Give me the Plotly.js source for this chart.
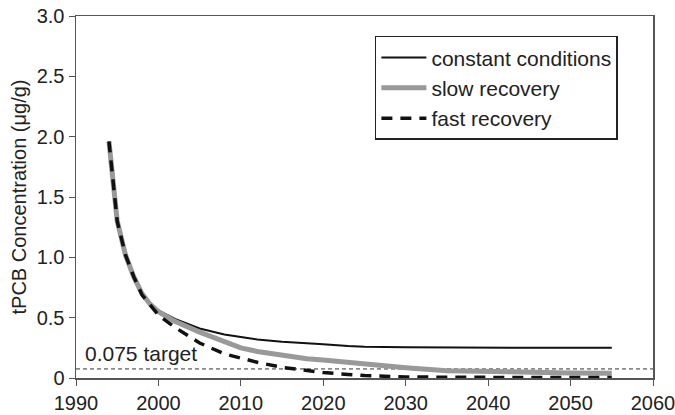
<!DOCTYPE html>
<html>
<head>
<meta charset="utf-8">
<script src="https://cdn.plot.ly/plotly-3.0.1.min.js"></script>
<style>html,body{margin:0;padding:0;background:#fff;}#chart{width:675px;height:415px;}</style>
</head>
<body>
<div id="chart"></div>
<script>
// Data
const years = [1994, 1995, 1996, 1997, 1998, 1999, 2000, 2002, 2005, 2008, 2010, 2012, 2015, 2018, 2020, 2023, 2025, 2030, 2035, 2040, 2045, 2050, 2055];
const constantConditions = [1.96, 1.30, 1.02, 0.84, 0.70, 0.62, 0.56, 0.49, 0.41, 0.36, 0.34, 0.32, 0.30, 0.29, 0.28, 0.265, 0.26, 0.255, 0.252, 0.25, 0.25, 0.25, 0.25];
const slowRecovery = [1.96, 1.30, 1.02, 0.84, 0.70, 0.61, 0.55, 0.47, 0.38, 0.30, 0.25, 0.22, 0.185, 0.16, 0.15, 0.13, 0.11, 0.085, 0.06, 0.052, 0.046, 0.042, 0.04];
const fastRecovery = [1.96, 1.30, 1.02, 0.84, 0.69, 0.60, 0.52, 0.42, 0.29, 0.20, 0.165, 0.13, 0.088, 0.06, 0.045, 0.03, 0.02, 0.008, 0.005, 0.004, 0.004, 0.004, 0.004];
const targetX = [1990, 2060];
const targetY = [0.075, 0.075];
const yTickVals = [0, 0.5, 1.0, 1.5, 2.0, 2.5, 3.0];
const yTickText = ["0", "0.5", "1.0", "1.5", "2.0", "2.5", "3.0"];
const xTickVals = [1990, 2000, 2010, 2020, 2030, 2040, 2050, 2060];

const font = {family: "Liberation Sans, Arial, sans-serif", color: "#222"};

const traces = [
  {x: targetX, y: targetY, mode: "lines", showlegend: false, hoverinfo: "skip",
   line: {color: "#333", width: 1, dash: "4px,3px"}},
  {x: years, y: constantConditions, mode: "lines", name: "constant conditions",
   line: {color: "#111", width: 2}},
  {x: years, y: slowRecovery, mode: "lines", name: "slow recovery",
   line: {color: "#999", width: 5}},
  {x: years, y: fastRecovery, mode: "lines", name: "fast recovery",
   line: {color: "#111", width: 3.5, dash: "11px,8px"}}
];

const layout = {
  width: 675, height: 415,
  margin: {l: 76, r: 22, t: 16, b: 37},
  paper_bgcolor: "#fff", plot_bgcolor: "#fff",
  font: Object.assign({size: 20}, font),
  showlegend: true,
  legend: {
    x: 0.518, y: 0.945, xanchor: "left", yanchor: "top",
    bgcolor: "#fff", bordercolor: "#222", borderwidth: 1.5,
    font: Object.assign({size: 21}, font),
    itemwidth: 45,
    tracegroupgap: 0
  },
  xaxis: {
    range: [1990, 2060], tickvals: xTickVals, ticks: "outside", ticklen: 6,
    tickcolor: "#555", showgrid: false, zeroline: false,
    showline: true, linecolor: "#555", linewidth: 1.5, mirror: true,
    ticklabeloverflow: "allow",
    tickfont: Object.assign({size: 20}, font)
  },
  yaxis: {
    range: [0, 3.0], tickvals: yTickVals, ticktext: yTickText, ticks: "outside", ticklen: 6,
    tickcolor: "#555", showgrid: false, zeroline: false,
    showline: true, linecolor: "#555", linewidth: 1.5, mirror: true,
    tickfont: Object.assign({size: 20}, font),
    title: {text: "tPCB Concentration (μg/g)", font: Object.assign({size: 20}, font), standoff: 4}
  },
  annotations: [
    {x: 1990.8, y: 0.075, xref: "x", yref: "y", text: "0.075 target", showarrow: false,
     xanchor: "left", yanchor: "bottom", yshift: 2, font: Object.assign({size: 21}, font)}
  ]
};

Plotly.newPlot("chart", traces, layout, {displayModeBar: false, staticPlot: true});
</script>
</body>
</html>
